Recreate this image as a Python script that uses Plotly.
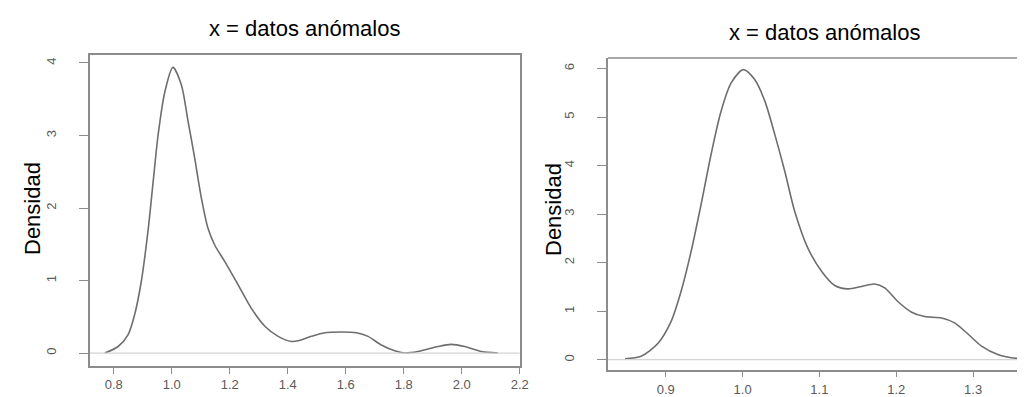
import plotly.graph_objects as go

# Left panel density (x = datos anómalos)
left_x = [0.769, 0.815, 0.849, 0.872, 0.895, 0.918, 0.936, 0.953, 0.976, 1.004, 1.033, 1.056,
          1.079, 1.102, 1.125, 1.148, 1.183, 1.229, 1.274, 1.321, 1.367, 1.412, 1.436, 1.481,
          1.528, 1.585, 1.637, 1.677, 1.723, 1.769, 1.803, 1.849, 1.918, 1.964, 2.010, 2.068, 2.125]
left_y = [0.00, 0.09, 0.25, 0.53, 0.99, 1.68, 2.37, 3.01, 3.60, 3.94, 3.70, 3.20,
          2.69, 2.14, 1.72, 1.49, 1.26, 0.94, 0.62, 0.37, 0.23, 0.16, 0.17, 0.23,
          0.28, 0.29, 0.28, 0.23, 0.11, 0.03, 0.00, 0.02, 0.09, 0.12, 0.09, 0.02, 0.00]

# Right panel density
right_x = [0.847, 0.868, 0.890, 0.907, 0.920, 0.933, 0.946, 0.959, 0.972, 0.985, 1.001, 1.016,
           1.029, 1.042, 1.055, 1.068, 1.085, 1.103, 1.120, 1.137, 1.155, 1.172, 1.185, 1.202,
           1.220, 1.237, 1.259, 1.276, 1.294, 1.311, 1.333, 1.350, 1.363]
right_y = [0.02, 0.07, 0.34, 0.79, 1.41, 2.23, 3.20, 4.23, 5.12, 5.70, 5.98, 5.77,
           5.33, 4.64, 3.88, 3.05, 2.30, 1.82, 1.53, 1.46, 1.51, 1.56, 1.48, 1.20,
           0.98, 0.89, 0.86, 0.76, 0.52, 0.28, 0.10, 0.04, 0.02]

left_xticks = [0.8, 1.0, 1.2, 1.4, 1.6, 1.8, 2.0, 2.2]
left_xlabels = ["0.8", "1.0", "1.2", "1.4", "1.6", "1.8", "2.0", "2.2"]
left_yticks = [0, 1, 2, 3, 4]
right_xticks = [0.9, 1.0, 1.1, 1.2, 1.3]
right_xlabels = ["0.9", "1.0", "1.1", "1.2", "1.3"]
right_yticks = [0, 1, 2, 3, 4, 5, 6]

title_text = "x = datos anómalos"
ylabel_text = "Densidad"

CURVE = "#6e6e6e"
AXIS = "#8c8c8c"
TICKFONT = dict(family="Liberation Sans, Arial", size=13, color="#5a5a5a")
FONT = "Liberation Sans, Arial"

fig = go.Figure()
fig.add_trace(go.Scatter(x=left_x, y=left_y, mode="lines",
                         line=dict(color=CURVE, width=1.6, shape="spline", smoothing=0.8),
                         xaxis="x", yaxis="y", showlegend=False, hoverinfo="skip"))
fig.add_trace(go.Scatter(x=right_x, y=right_y, mode="lines",
                         line=dict(color=CURVE, width=1.6, shape="spline", smoothing=0.8),
                         xaxis="x2", yaxis="y2", showlegend=False, hoverinfo="skip"))

common_x = dict(showgrid=False, zeroline=False, ticks="outside", ticklen=6, tickwidth=1.3,
                tickcolor=AXIS, showline=True, linecolor=AXIS, linewidth=1.5, tickfont=TICKFONT)
common_y = dict(showgrid=False, zeroline=False, ticks="outside", ticklen=9, tickwidth=1.3,
                tickcolor=AXIS, showline=True, linecolor=AXIS, linewidth=1.5, tickfont=TICKFONT,
                tickangle=-90, ticklabelstandoff=18)

fig.update_layout(
    width=1025, height=397,
    margin=dict(l=0, r=0, t=0, b=0, autoexpand=False),
    paper_bgcolor="white", plot_bgcolor="white",
    xaxis=dict(domain=[0.0800, 0.4992], range=[0.718, 2.2], tickvals=left_xticks, ticktext=left_xlabels,
               anchor="y", mirror=True, ticklabelstandoff=0, **common_x),
    yaxis=dict(domain=[0.0982, 0.8816], range=[-0.179, 4.110], tickvals=left_yticks,
               anchor="x", mirror=True, **common_y),
    xaxis2=dict(domain=[0.5854, 1.0], range=[0.8249, 1.378], tickvals=right_xticks, ticktext=right_xlabels,
                anchor="y2", ticklabelstandoff=1, **common_x),
    yaxis2=dict(domain=[0.0889, 0.8741], range=[-0.206, 6.22], tickvals=right_yticks,
                anchor="x2", **common_y),
)

# zero lines (light gray) and top border of right panel
fig.add_shape(type="line", xref="x domain", yref="y", x0=0, x1=1, y0=0, y1=0,
              line=dict(color="#d4d4d4", width=1.2))
fig.add_shape(type="line", xref="x2 domain", yref="y2", x0=0, x1=1.01, y0=0, y1=0,
              line=dict(color="#d4d4d4", width=1.2))
fig.add_shape(type="line", xref="x2 domain", yref="y2 domain", x0=0, x1=1.01, y0=1, y1=1,
              line=dict(color=AXIS, width=1.5))

# titles and y labels
fig.add_annotation(text=title_text, x=0.2888, y=1 - 21 / 397, xref="paper", yref="paper",
                   xanchor="center", yanchor="middle", showarrow=False,
                   font=dict(family=FONT, size=22, color="black"))
fig.add_annotation(text=title_text, x=816 / 1025, y=1 - 24 / 397, xref="paper", yref="paper",
                   xanchor="center", yanchor="middle", showarrow=False,
                   font=dict(family=FONT, size=22, color="black"))
fig.add_annotation(text=ylabel_text, x=24 / 1025, y=1 - 201 / 397, xref="paper", yref="paper",
                   xanchor="center", yanchor="middle", showarrow=False, textangle=-90,
                   font=dict(family=FONT, size=22, color="black"))
fig.add_annotation(text=ylabel_text, x=545 / 1025, y=1 - 202 / 397, xref="paper", yref="paper",
                   xanchor="center", yanchor="middle", showarrow=False, textangle=-90,
                   font=dict(family=FONT, size=22, color="black"))

fig.write_html("out.html")
